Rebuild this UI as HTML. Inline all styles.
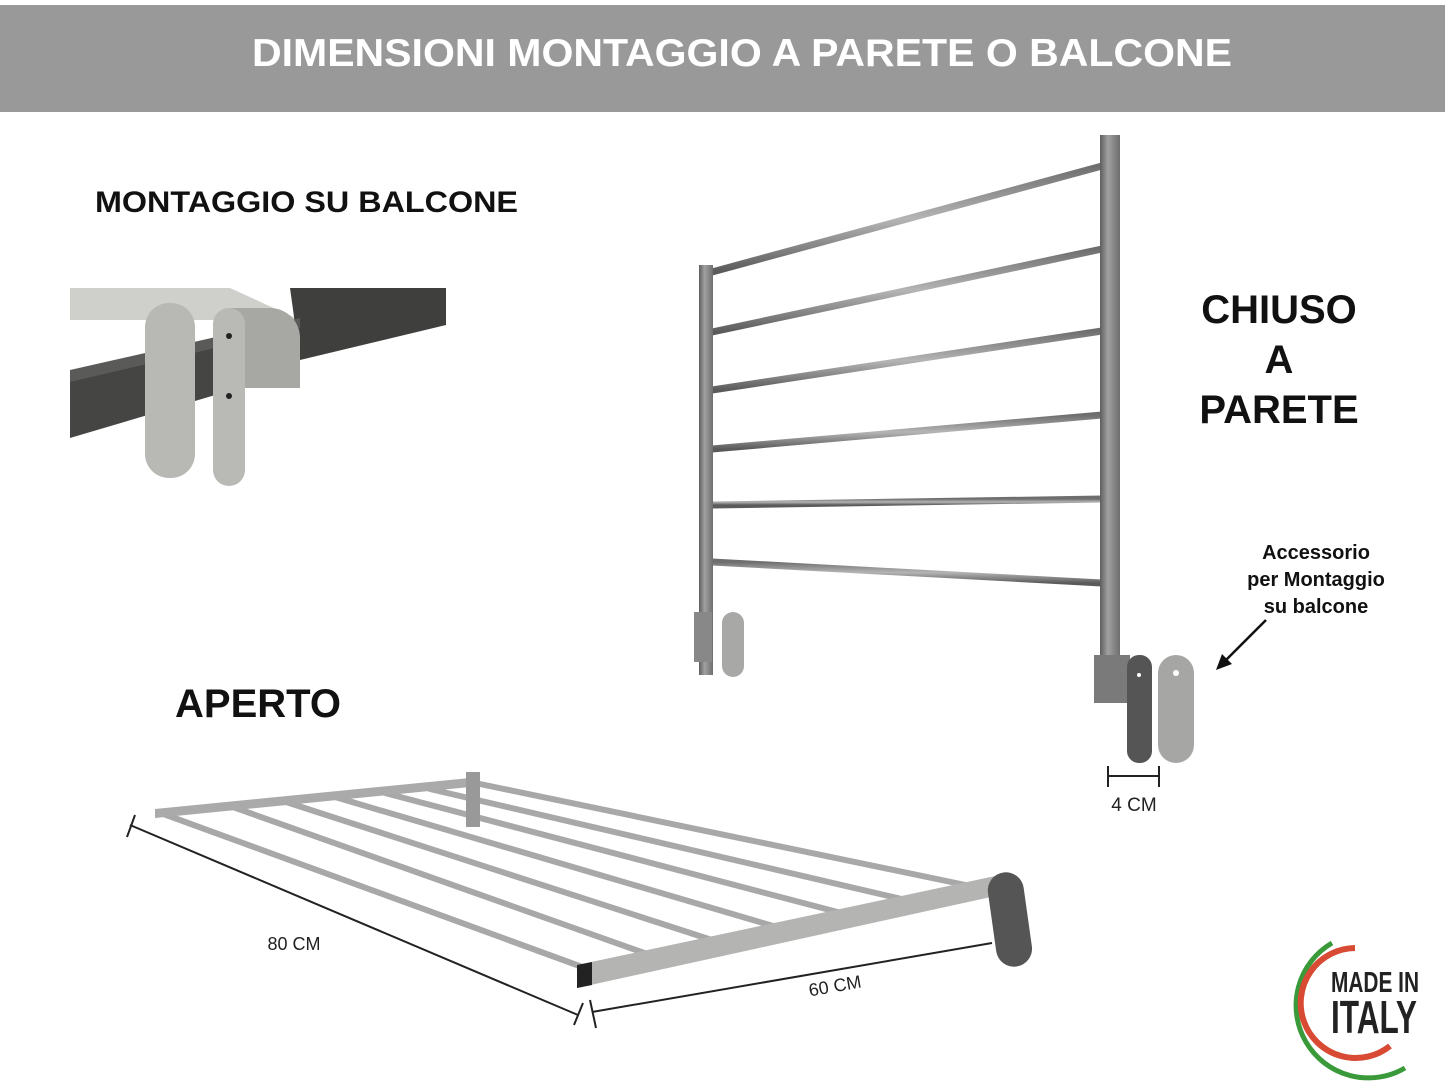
<!DOCTYPE html>
<html><head><meta charset="utf-8"><style>
html,body{margin:0;padding:0;background:#fff;width:1445px;height:1091px;overflow:hidden}
svg{display:block}
text{font-family:"Liberation Sans",sans-serif}
</style></head><body>
<svg width="1445" height="1091" viewBox="0 0 1445 1091" xmlns="http://www.w3.org/2000/svg">
<defs>
<linearGradient id="rod" x1="0" y1="0" x2="0" y2="1"><stop offset="0" stop-color="#6e6e6e"/><stop offset="0.5" stop-color="#b5b5b5"/><stop offset="1" stop-color="#5a5a5a"/></linearGradient>
<linearGradient id="post" x1="0" y1="0" x2="1" y2="0"><stop offset="0" stop-color="#5e5e5e"/><stop offset="0.4" stop-color="#a0a0a0"/><stop offset="1" stop-color="#6e6e6e"/></linearGradient>
</defs>
<rect x="0" y="5" width="1445" height="107" fill="#999"/>
<text x="742" y="66" font-size="39" font-weight="bold" fill="#fff" text-anchor="middle" textLength="980" lengthAdjust="spacingAndGlyphs">DIMENSIONI MONTAGGIO A PARETE O BALCONE</text>

<text x="95" y="212" font-size="30" font-weight="bold" fill="#111" textLength="423" lengthAdjust="spacingAndGlyphs">MONTAGGIO SU BALCONE</text>

<!-- balcony detail -->
<polygon points="70,288 230,288 300,320 70,320" fill="#cfd0cc"/>
<polygon points="290,288 446,288 446,325 300,360" fill="#3f403e"/>
<polygon points="70,380 300,325 300,370 70,438" fill="#454644"/>
<polygon points="70,370 300,318 300,328 70,382" fill="#5a5b59"/>
<rect x="145" y="303" width="50" height="175" rx="24" fill="#b8b9b5"/>
<path d="M230,308 h40 a30,30 0 0 1 30,30 v50 h-70 z" fill="#a7a8a4"/>
<rect x="213" y="308" width="32" height="178" rx="16" fill="#b9bab6"/>
<circle cx="229" cy="336" r="3" fill="#222"/><circle cx="229" cy="396" r="3" fill="#222"/>

<!-- closed rack -->
<g stroke="url(#rod)" stroke-width="7" stroke-linecap="round">
<line x1="712" y1="272" x2="1102" y2="166"/>
<line x1="712" y1="332" x2="1102" y2="249"/>
<line x1="712" y1="390" x2="1102" y2="331"/>
<line x1="712" y1="449" x2="1102" y2="415"/>
<line x1="712" y1="505" x2="1102" y2="499"/>
<line x1="712" y1="562" x2="1102" y2="583"/>
</g>
<rect x="699" y="265" width="14" height="410" fill="url(#post)"/>
<rect x="1100" y="135" width="20" height="565" fill="url(#post)"/>
<rect x="722" y="612" width="22" height="65" rx="11" fill="#a8a9a6"/>
<rect x="694" y="612" width="18" height="50" fill="#888"/>
<rect x="1094" y="655" width="36" height="48" fill="#7a7a7a"/>
<rect x="1127" y="655" width="25" height="108" rx="12" fill="#555"/>
<rect x="1158" y="655" width="36" height="108" rx="18" fill="#a6a7a4"/>
<g fill="#fff"><circle cx="1139" cy="675" r="2"/><circle cx="1176" cy="673" r="3"/></g>
<g stroke="#222" stroke-width="2"><line x1="1108" y1="776" x2="1159" y2="776"/><line x1="1108" y1="766" x2="1108" y2="787"/><line x1="1159" y1="766" x2="1159" y2="787"/></g>
<text x="1134" y="811" font-size="19" fill="#222" text-anchor="middle">4 CM</text>

<text x="1279" y="323" font-size="40" font-weight="bold" fill="#111" text-anchor="middle">CHIUSO</text>
<text x="1279" y="373" font-size="40" font-weight="bold" fill="#111" text-anchor="middle">A</text>
<text x="1279" y="423" font-size="40" font-weight="bold" fill="#111" text-anchor="middle">PARETE</text>
<text x="1316" y="559" font-size="20" font-weight="bold" fill="#111" text-anchor="middle">Accessorio</text>
<text x="1316" y="586" font-size="20" font-weight="bold" fill="#111" text-anchor="middle">per Montaggio</text>
<text x="1316" y="613" font-size="20" font-weight="bold" fill="#111" text-anchor="middle">su balcone</text>
<line x1="1266" y1="620" x2="1224" y2="662" stroke="#111" stroke-width="2.5"/>
<polygon points="1216,670 1222,654 1232,664" fill="#111"/>

<text x="258" y="717" font-size="40" font-weight="bold" fill="#111" text-anchor="middle">APERTO</text>

<!-- open rack -->
<g stroke="#a8a8a8" stroke-width="6" stroke-linecap="round">
<line x1="158" y1="812" x2="585" y2="968"/>
<line x1="230" y1="806" x2="650" y2="955"/>
<line x1="283" y1="801" x2="715" y2="941"/>
<line x1="335" y1="797" x2="780" y2="928"/>
<line x1="385" y1="793" x2="845" y2="914"/>
<line x1="430" y1="789" x2="910" y2="901"/>
<line x1="480" y1="784" x2="975" y2="887"/>
</g>
<polygon points="155,809 480,777 480,786 155,818" fill="#aaa"/>
<polygon points="577,965 1000,875 1000,895 577,988" fill="#b4b5b2"/>
<polygon points="577,965 592,962 592,985 577,988" fill="#222"/>
<rect x="466" y="772" width="14" height="55" fill="#999"/>
<rect x="992" y="872" width="36" height="95" rx="18" fill="#555" transform="rotate(-8 1010 920)"/>
<g stroke="#222" stroke-width="2">
<line x1="130" y1="825" x2="578" y2="1015"/><line x1="127" y1="837" x2="135" y2="815"/><line x1="574" y1="1025" x2="583" y2="1003"/>
<line x1="592" y1="1012" x2="992" y2="943"/><line x1="590" y1="1000" x2="596" y2="1028"/>
</g>
<text x="294" y="950" font-size="18" fill="#222" text-anchor="middle">80 CM</text>
<text x="835" y="992" font-size="18" fill="#222" text-anchor="middle" transform="rotate(-10 835 986)">60 CM</text>

<!-- made in italy -->
<path d="M1332,943 A68,68 0 1 0 1405,1068" fill="none" stroke="#3a9a3a" stroke-width="5"/>
<path d="M1355,948 A55,55 0 1 0 1390,1046" fill="none" stroke="#d84a33" stroke-width="6"/>
<text x="1331" y="992" font-size="29" font-weight="bold" fill="#222" textLength="88" lengthAdjust="spacingAndGlyphs">MADE IN</text>
<text x="1331" y="1033" font-size="46" font-weight="bold" fill="#222" textLength="86" lengthAdjust="spacingAndGlyphs">ITALY</text>
</svg>
</body></html>
